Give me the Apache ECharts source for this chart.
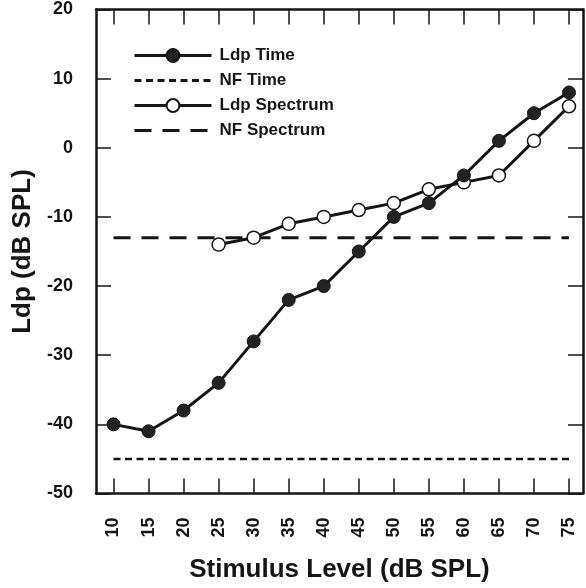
<!DOCTYPE html>
<html>
<head>
<meta charset="utf-8">
<script src="https://cdn.jsdelivr.net/npm/echarts@6/dist/echarts.min.js"></script>
<style>
html,body{margin:0;padding:0;background:#fff;}
#chart{width:586px;height:588px;}
</style>
</head>
<body>
<div id="chart"></div>
<script>
// Data
var stimulusLevels = [10, 15, 20, 25, 30, 35, 40, 45, 50, 55, 60, 65, 70, 75];
var ldpTime = [-40, -41, -38, -34, -28, -22, -20, -15, -10, -8, -4, 1, 5, 8];
var spectrumLevels = [25, 30, 35, 40, 45, 50, 55, 60, 65, 70, 75];
var ldpSpectrum = [-14, -13, -11, -10, -9, -8, -6, -5, -4, 1, 6];
var nfTimeLevel = -45;
var nfSpectrumLevel = -13;
var xTicks = [10, 15, 20, 25, 30, 35, 40, 45, 50, 55, 60, 65, 70, 75];
var seriesNames = ['Ldp Time', 'NF Time', 'Ldp Spectrum', 'NF Spectrum'];

function pairs(xs, ys) { return xs.map(function (x, i) { return [x, ys[i]]; }); }
var nfRange = [stimulusLevels[0], stimulusLevels[stimulusLevels.length - 1]];

var INK = '#151515';
var FONT = 'Liberation Sans, Arial, Helvetica, sans-serif';

var chart = echarts.init(document.getElementById('chart'), null, {renderer: 'canvas'});

function frameLine() { return {show: true, onZero: false, lineStyle: {color: INK, width: 2.5}}; }
function innerTick(custom) {
  var t = {show: true, inside: true, length: 15, lineStyle: {color: INK, width: 1.5}};
  if (custom) t.customValues = custom;
  return t;
}

chart.setOption({
  animation: false,
  backgroundColor: '#fff',
  grid: {left: 96, right: 3, top: 9.5, bottom: 94.5, containLabel: false},
  legend: {
    orient: 'vertical',
    left: 133,
    top: 47,
    padding: 0,
    itemWidth: 77,
    itemHeight: 16,
    itemGap: 8,
    lineStyle: {width: 3},
    data: [
      {name: seriesNames[0]},
      {name: seriesNames[1], itemStyle: {opacity: 0, borderWidth: 0}},
      {name: seriesNames[2]},
      {name: seriesNames[3], itemStyle: {opacity: 0, borderWidth: 0}}
    ],
    textStyle: {color: INK, fontFamily: FONT, fontWeight: 'bold', fontSize: 17, padding: [0, 0, 0, 3]}
  },
  xAxis: [{
    type: 'value',
    position: 'bottom',
    min: 7.5, max: 77,
    name: 'Stimulus Level (dB SPL)',
    nameLocation: 'middle',
    nameGap: 63,
    nameTextStyle: {color: INK, fontFamily: FONT, fontWeight: 'bold', fontSize: 26},
    axisLine: frameLine(),
    axisTick: innerTick(xTicks),
    axisLabel: {customValues: xTicks, rotate: 90, margin: 24, color: INK, fontFamily: FONT, fontWeight: 'bold', fontSize: 18},
    splitLine: {show: false}
  }, {
    type: 'value',
    position: 'top',
    min: 7.5, max: 77,
    axisLine: frameLine(),
    axisTick: innerTick(xTicks),
    axisLabel: {show: false},
    splitLine: {show: false}
  }],
  yAxis: [{
    type: 'value',
    position: 'left',
    min: -50, max: 20, interval: 10,
    name: 'Ldp (dB SPL)',
    nameLocation: 'middle',
    nameGap: 49,
    nameTextStyle: {color: INK, fontFamily: FONT, fontWeight: 'bold', fontSize: 26},
    axisLine: frameLine(),
    axisTick: innerTick(),
    axisLabel: {margin: 23, color: INK, fontFamily: FONT, fontWeight: 'bold', fontSize: 18},
    splitLine: {show: false}
  }, {
    type: 'value',
    position: 'right',
    min: -50, max: 20, interval: 10,
    axisLine: frameLine(),
    axisTick: innerTick(),
    axisLabel: {show: false},
    splitLine: {show: false}
  }],
  series: [{
    name: seriesNames[0],
    type: 'line',
    data: pairs(stimulusLevels, ldpTime),
    symbol: 'circle',
    symbolSize: 13,
    lineStyle: {color: INK, width: 3},
    itemStyle: {color: '#222', borderColor: INK, borderWidth: 1},
    z: 4
  }, {
    name: seriesNames[1],
    type: 'line',
    data: pairs(nfRange, [nfTimeLevel, nfTimeLevel]),
    symbol: 'none',
    lineStyle: {color: INK, width: 2.5, type: [7, 4.5]},
    itemStyle: {color: INK},
    z: 2
  }, {
    name: seriesNames[2],
    type: 'line',
    data: pairs(spectrumLevels, ldpSpectrum),
    symbol: 'circle',
    symbolSize: 13,
    lineStyle: {color: INK, width: 3},
    itemStyle: {color: '#fff', borderColor: INK, borderWidth: 1.5},
    z: 3
  }, {
    name: seriesNames[3],
    type: 'line',
    data: pairs(nfRange, [nfSpectrumLevel, nfSpectrumLevel]),
    symbol: 'none',
    lineStyle: {color: INK, width: 3, type: [17, 11]},
    itemStyle: {color: INK},
    z: 2
  }]
});
</script>
</body>
</html>
